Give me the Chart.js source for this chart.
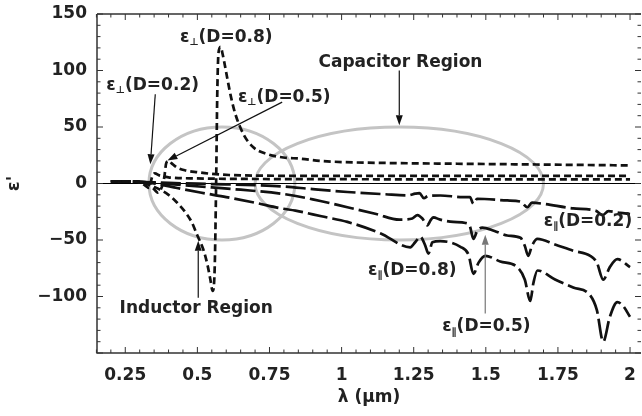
<!DOCTYPE html>
<html>
<head>
<meta charset="utf-8">
<script src="https://cdn.jsdelivr.net/npm/chart.js@4.4.0/dist/chart.umd.min.js"></script>
<style>
  html, body { margin: 0; padding: 0; background: #fff; }
</style>
</head>
<body>
<canvas id="myChart" width="642" height="416"></canvas>
<script>
// axis ticks
const xTickValues = [0.25, 0.5, 0.75, 1, 1.25, 1.5, 1.75, 2];
const xTickLabels = ['0.25', '0.5', '0.75', '1', '1.25', '1.5', '1.75', '2'];
const yTickValues = [-100, -50, 0, 50, 100, 150];
const yTickLabels = ['\u2212100', '\u221250', '0', '50', '100', '150'];

// eps perpendicular, D = 0.8
const perp08Lambda = [0.20, 0.25, 0.30, 0.35, 0.40, 0.43, 0.46, 0.48, 0.50, 0.52, 0.535, 0.545, 0.553, 0.560, 0.565, 0.569, 0.573, 0.580, 0.588, 0.603, 0.617, 0.631, 0.659, 0.694, 0.742, 0.798, 0.857, 0.926, 1.0, 1.2, 1.4, 1.6, 1.8, 2.0];
const perp08Eps    = [2, 2, 1.5, -3, -10, -17, -26, -34, -46, -58, -72, -85, -95, -75, 0, 80, 115, 121, 114, 94, 76, 62, 44, 32, 26, 23, 22, 20, 19, 18, 17.5, 17, 16.5, 16];

// eps perpendicular, D = 0.5
const perp05Lambda = [0.20, 0.25, 0.30, 0.33, 0.35, 0.362, 0.372, 0.385, 0.392, 0.40, 0.41, 0.43, 0.46, 0.50, 0.55, 0.61, 0.70, 0.85, 1.0, 1.25, 1.5, 1.75, 2.0];
const perp05Eps    = [2, 2, 1.5, -1, -5, -8, -6, 5, 18, 20, 18, 14, 11.5, 10, 8.5, 7.5, 7, 6.8, 6.8, 6.8, 6.8, 6.8, 6.8];

// eps perpendicular, D = 0.2
const perp02Lambda = [0.20, 0.25, 0.30, 0.32, 0.333, 0.343, 0.352, 0.37, 0.40, 0.50, 0.70, 1.0, 1.5, 2.0];
const perp02Eps    = [2, 2, 1, -2, -4, 6, 9, 7, 5.5, 4.5, 4, 3.8, 3.6, 3.6];

// eps parallel, D = 0.2
const par02Lambda = [0.20, 0.30, 0.40, 0.55, 0.70, 0.79, 0.90, 1.02, 1.15, 1.23, 1.255, 1.27, 1.285, 1.30, 1.342, 1.42, 1.445, 1.457, 1.47, 1.574, 1.62, 1.644, 1.66, 1.70, 1.803, 1.88, 1.905, 1.925, 1.966, 2.0];
const par02Eps    = [2, 1.5, 0.5, -0.5, -1.5, -2.5, -5, -7.5, -9.5, -10.5, -9, -8.5, -13, -11, -10.6, -12, -12, -18, -13.5, -15, -16, -21, -17, -18, -22, -24, -28, -24.5, -26, -27];

// eps parallel, D = 0.5
const par05Lambda = [0.20, 0.30, 0.35, 0.45, 0.55, 0.65, 0.79, 0.90, 1.02, 1.12, 1.20, 1.245, 1.263, 1.28, 1.297, 1.31, 1.318, 1.342, 1.387, 1.43, 1.445, 1.457, 1.47, 1.488, 1.53, 1.574, 1.62, 1.635, 1.647, 1.66, 1.679, 1.74, 1.803, 1.862, 1.885, 1.907, 1.93, 1.956, 2.0];
const par05Eps    = [2, 1.5, 0.5, -1.5, -3.5, -5.5, -9, -14, -21, -27, -32, -31, -28, -31, -37, -32, -30, -32, -34, -35, -38, -49, -42, -39, -42, -46, -48, -55, -64, -55, -49, -54, -59.5, -64, -70, -85, -74, -67, -74];

// eps parallel, D = 0.8
const par08Lambda = [0.20, 0.30, 0.35, 0.43, 0.51, 0.60, 0.70, 0.79, 0.84, 0.93, 1.02, 1.134, 1.238, 1.255, 1.273, 1.29, 1.301, 1.315, 1.342, 1.412, 1.44, 1.457, 1.475, 1.498, 1.55, 1.609, 1.635, 1.654, 1.665, 1.679, 1.74, 1.803, 1.862, 1.885, 1.907, 1.93, 1.956, 1.975, 2.0];
const par08Eps    = [2, 1.5, 0, -4, -8, -12, -17, -22, -24, -29, -34, -44, -56.5, -52, -47, -55, -62, -52, -51, -56, -63, -80, -70, -64, -69, -74, -85, -104, -88, -77, -85, -92, -99, -112, -140, -118, -105, -108, -118];

const toPoints = (xs, ys) => xs.map((x, i) => ({ x: x, y: ys[i] }));

const shortDash = [7, 4];
const longDash = [20, 5];

const makeSet = (label, xs, ys, dash) => ({
  label: label,
  data: toPoints(xs, ys),
  borderColor: '#111',
  borderWidth: 2.7,
  borderDash: dash,
  pointRadius: 0,
  fill: false,
  cubicInterpolationMode: 'monotone'
});

const textFont = 'bold 17px "DejaVu Sans"';
const subFont = 'bold 10px "DejaVu Sans"';

// text labels (data coords)
const notes = [
  { sub: '\u22a5', rest: '(D=0.8)', x: 0.600, y: 129 },
  { sub: '\u22a5', rest: '(D=0.2)', x: 0.345, y: 87 },
  { sub: '\u22a5', rest: '(D=0.5)', x: 0.801, y: 76 },
  { sub: '\u2225', rest: '(D=0.2)', x: 1.854, y: -33.7 },
  { sub: '\u2225', rest: '(D=0.8)', x: 1.245, y: -77.2 },
  { sub: '\u2225', rest: '(D=0.5)', x: 1.502, y: -127 }
];
const regionNotes = [
  { text: 'Capacitor Region', x: 1.204, y: 107.4 },
  { text: 'Inductor Region', x: 0.496, y: -111 }
];
const arrows = [
  { x0: 0.354, y0: 79, x1: 0.337, y1: 17, color: '#111' },
  { x0: 0.794, y0: 72, x1: 0.396, y1: 20.4, color: '#111' },
  { x0: 1.2, y0: 100, x1: 1.2, y1: 51.5, color: '#111' },
  { x0: 0.503, y0: -101, x1: 0.503, y1: -50.6, color: '#111' },
  { x0: 1.498, y0: -115, x1: 1.498, y1: -45.3, color: '#777' }
];
const ellipses = [
  { cx: 0.585, cy: 0, rx: 0.253, ry: 50 },
  { cx: 1.2, cy: 0, rx: 0.5, ry: 50 }
];

const decor = {
  id: 'decor',
  beforeDatasetsDraw(chart) {
    const { ctx, scales: { x, y } } = chart;
    ctx.save();
    ctx.strokeStyle = '#c4c4c4';
    ctx.lineWidth = 3;
    ellipses.forEach(e => {
      const cx = x.getPixelForValue(e.cx), cy = y.getPixelForValue(e.cy);
      const rx = Math.abs(x.getPixelForValue(e.cx + e.rx) - cx);
      const ry = Math.abs(y.getPixelForValue(e.cy + e.ry) - cy);
      ctx.beginPath();
      ctx.ellipse(cx, cy, rx, ry, 0, 0, Math.PI * 2);
      ctx.stroke();
    });
    // zero line
    const y0 = y.getPixelForValue(0);
    ctx.strokeStyle = '#000';
    ctx.lineWidth = 1;
    ctx.beginPath();
    ctx.moveTo(chart.chartArea.left, y0);
    ctx.lineTo(chart.chartArea.right, y0);
    ctx.stroke();
    ctx.restore();
  },
  afterDatasetsDraw(chart) {
    const { ctx, chartArea: a, scales: { x, y } } = chart;
    ctx.save();
    // frame
    ctx.strokeStyle = '#333';
    ctx.lineWidth = 1.5;
    ctx.beginPath();
    ctx.moveTo(a.left, a.top); ctx.lineTo(a.right, a.top);
    ctx.moveTo(a.left, a.top); ctx.lineTo(a.left, a.bottom); ctx.lineTo(a.right, a.bottom);
    ctx.stroke();
    // ticks, inward
    ctx.lineWidth = 1;
    ctx.beginPath();
    for (let i = 0; i <= 40; i++) {
      const v = 0.15 + i * 0.05;
      if (v > 2.04) break;
      const p = x.getPixelForValue(v);
      const len = (Math.abs(v / 0.25 - Math.round(v / 0.25)) < 1e-6) ? 6 : 3.5;
      ctx.moveTo(p, a.bottom); ctx.lineTo(p, a.bottom - len);
      ctx.moveTo(p, a.top); ctx.lineTo(p, a.top + len);
    }
    for (let v = -150; v <= 150; v += 10) {
      const p = y.getPixelForValue(v);
      const len = (v % 50 === 0) ? 6 : 3.5;
      ctx.moveTo(a.left, p); ctx.lineTo(a.left + len, p);
      ctx.moveTo(a.right, p); ctx.lineTo(a.right - len, p);
    }
    ctx.stroke();

    // arrows
    arrows.forEach(ar => {
      const x0 = x.getPixelForValue(ar.x0), y0 = y.getPixelForValue(ar.y0);
      const x1 = x.getPixelForValue(ar.x1), y1 = y.getPixelForValue(ar.y1);
      const ang = Math.atan2(y1 - y0, x1 - x0);
      const hl = 10, hw = 3.5;
      ctx.strokeStyle = ar.color;
      ctx.fillStyle = ar.color;
      ctx.lineWidth = 1.2;
      ctx.beginPath();
      ctx.moveTo(x0, y0);
      ctx.lineTo(x1 - hl * Math.cos(ang), y1 - hl * Math.sin(ang));
      ctx.stroke();
      ctx.beginPath();
      ctx.moveTo(x1, y1);
      ctx.lineTo(x1 - hl * Math.cos(ang) + hw * Math.sin(ang), y1 - hl * Math.sin(ang) - hw * Math.cos(ang));
      ctx.lineTo(x1 - hl * Math.cos(ang) - hw * Math.sin(ang), y1 - hl * Math.sin(ang) + hw * Math.cos(ang));
      ctx.closePath();
      ctx.fill();
    });

    // labels
    ctx.fillStyle = '#222';
    ctx.textBaseline = 'middle';
    ctx.textAlign = 'left';
    notes.forEach(n => {
      ctx.font = textFont;
      const we = ctx.measureText('\u03b5').width;
      const wr = ctx.measureText(n.rest).width;
      ctx.font = subFont;
      const ws = ctx.measureText(n.sub).width;
      const total = we + ws + wr;
      let cx = x.getPixelForValue(n.x) - total / 2;
      const cy = y.getPixelForValue(n.y);
      ctx.font = textFont;
      ctx.fillText('\u03b5', cx, cy);
      cx += we;
      ctx.font = subFont;
      ctx.fillText(n.sub, cx, cy + 5);
      cx += ws;
      ctx.font = textFont;
      ctx.fillText(n.rest, cx, cy);
    });
    ctx.textAlign = 'center';
    ctx.font = textFont;
    regionNotes.forEach(n => {
      ctx.fillText(n.text, x.getPixelForValue(n.x), y.getPixelForValue(n.y));
    });
    ctx.restore();
  }
};

const ctx = document.getElementById('myChart').getContext('2d');
const myChart = new Chart(ctx, {
  type: 'line',
  data: {
    datasets: [
      makeSet('perp D=0.8', perp08Lambda, perp08Eps, shortDash),
      makeSet('perp D=0.5', perp05Lambda, perp05Eps, shortDash),
      makeSet('perp D=0.2', perp02Lambda, perp02Eps, shortDash),
      makeSet('par D=0.2', par02Lambda, par02Eps, longDash),
      makeSet('par D=0.5', par05Lambda, par05Eps, longDash),
      makeSet('par D=0.8', par08Lambda, par08Eps, longDash)
    ]
  },
  options: {
    responsive: false,
    animation: false,
    events: [],
    layout: { padding: { top: 14, right: 1, left: 0, bottom: 0 } },
    plugins: { legend: { display: false }, tooltip: { enabled: false } },
    scales: {
      x: {
        type: 'linear',
        min: 0.152,
        max: 2.038,
        grid: { display: false, drawTicks: false },
        border: { display: false },
        afterBuildTicks: (s) => { s.ticks = xTickValues.map(v => ({ value: v })); },
        afterFit: (s) => { s.height = 63; s.paddingLeft = 0; s.paddingRight = 0; },
        ticks: {
          padding: 12,
          color: '#222',
          font: { family: 'DejaVu Sans', size: 17, weight: 'bold' },
          maxRotation: 0,
          autoSkip: false,
          callback: (v, i) => xTickLabels[i]
        },
        title: {
          display: true,
          text: '\u03bb (\u03bcm)',
          color: '#222',
          font: { family: 'DejaVu Sans', size: 17, weight: 'bold' },
          padding: { top: 0, bottom: 8 }
        }
      },
      y: {
        min: -150,
        max: 150,
        grid: { display: false, drawTicks: false },
        border: { display: false },
        afterBuildTicks: (s) => { s.ticks = yTickValues.map(v => ({ value: v })); },
        afterFit: (s) => { s.width = 97; s.paddingTop = 0; s.paddingBottom = 0; },
        ticks: {
          padding: 10,
          color: '#222',
          font: { family: 'DejaVu Sans', size: 17, weight: 'bold' },
          autoSkip: false,
          callback: (v, i) => yTickLabels[i]
        },
        title: {
          display: true,
          text: "\u03b5'",
          color: '#222',
          font: { family: 'DejaVu Sans', size: 18, weight: 'bold' },
          padding: { top: 4, bottom: 0 }
        }
      }
    }
  },
  plugins: [decor]
});
</script>
</body>
</html>
